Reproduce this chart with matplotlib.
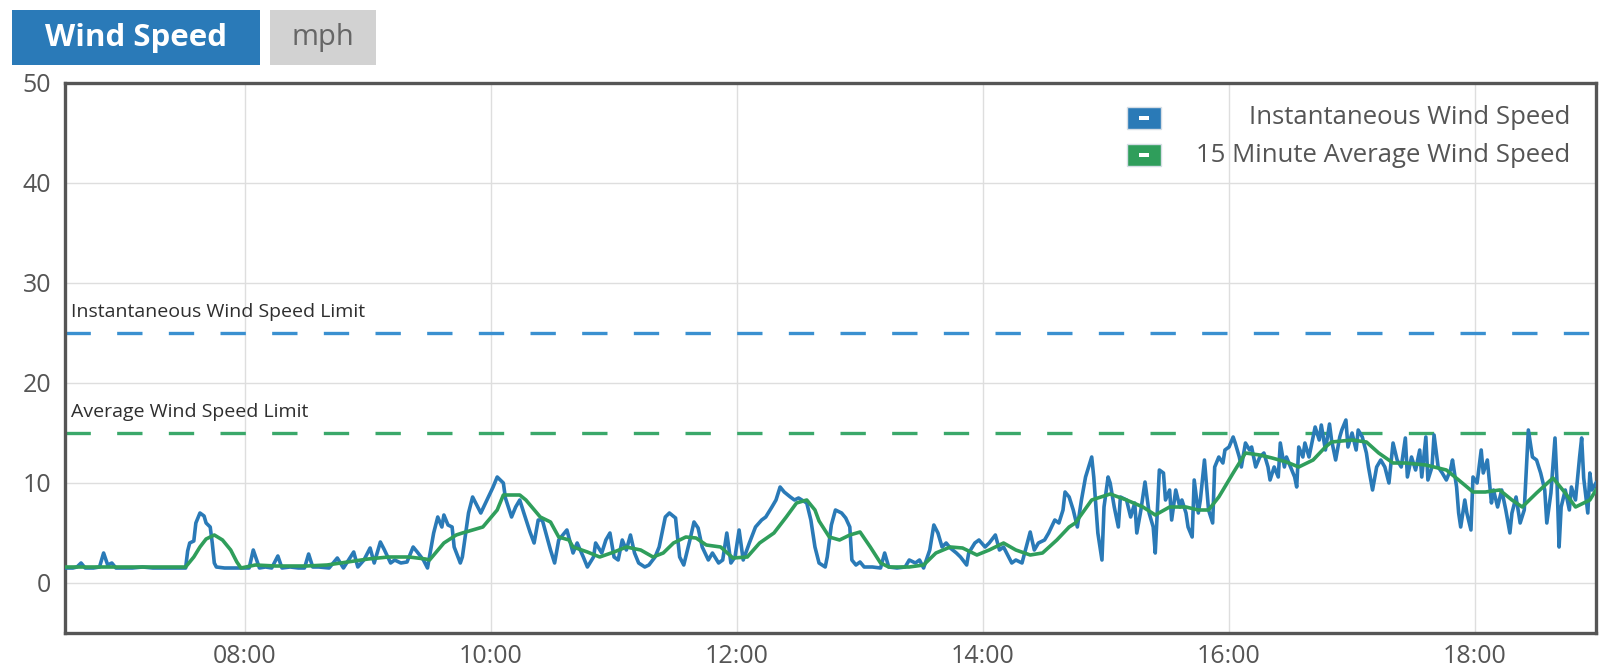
import matplotlib
matplotlib.use("Agg")
import matplotlib.pyplot as plt
import matplotlib.dates as mdates
from matplotlib.patches import Rectangle
import pandas as pd

plt.rcParams['font.family'] = ['Open Sans', 'DejaVu Sans']

DAY = "2019-06-14"

# Instantaneous wind speed readings (local time, mph)
inst_times = [
    "06:32", "06:36", "06:38", "06:40", "06:42", "06:46", "06:49", "06:51", "06:53", "06:55",
    "06:57", "07:05", "07:10", "07:15", "07:20", "07:25", "07:31", "07:32", "07:33", "07:35",
    "07:36", "07:38", "07:40", "07:41", "07:43", "07:44", "07:45", "07:46", "07:50", "07:55",
    "07:58", "08:02", "08:04", "08:07", "08:10", "08:13", "08:16", "08:18", "08:22", "08:26",
    "08:29", "08:31", "08:33", "08:36", "08:41", "08:45", "08:48", "08:53", "08:55", "08:58",
    "09:01", "09:03", "09:06", "09:08", "09:11", "09:13", "09:16", "09:19", "09:22", "09:24",
    "09:27", "09:29", "09:32", "09:34", "09:36", "09:37", "09:39", "09:41", "09:42", "09:45",
    "09:46", "09:49", "09:51", "09:53", "09:55", "09:58", "10:01", "10:03", "10:06", "10:07",
    "10:10", "10:12", "10:14", "10:16", "10:19", "10:21", "10:23", "10:25", "10:29", "10:31",
    "10:33", "10:37", "10:40", "10:42", "10:45", "10:47", "10:50", "10:51", "10:54", "10:56",
    "10:58", "11:00", "11:02", "11:04", "11:06", "11:08", "11:10", "11:12", "11:15", "11:17",
    "11:20", "11:22", "11:25", "11:27", "11:30", "11:32", "11:34", "11:37", "11:39", "11:41",
    "11:43", "11:46", "11:48", "11:51", "11:53", "11:55", "11:57", "11:59", "12:01", "12:03",
    "12:06", "12:09", "12:12", "12:14", "12:17", "12:19", "12:21", "12:23", "12:26", "12:28",
    "12:30", "12:34", "12:36", "12:38", "12:40", "12:43", "12:44", "12:46", "12:48", "12:51",
    "12:53", "12:55", "12:56", "12:58", "13:00", "13:02", "13:06", "13:10", "13:12", "13:14",
    "13:18", "13:22", "13:24", "13:27", "13:29", "13:31", "13:34", "13:36", "13:38", "13:40",
    "13:42", "13:44", "13:47", "13:49", "13:52", "13:53", "13:56", "13:58", "14:01", "14:03",
    "14:06", "14:08", "14:10", "14:14", "14:16", "14:19", "14:23", "14:25", "14:27", "14:30",
    "14:32", "14:35", "14:37", "14:39", "14:40", "14:42", "14:44", "14:46", "14:48", "14:50",
    "14:53", "14:54", "14:56", "14:58", "14:59", "15:01", "15:02", "15:04", "15:06", "15:07",
    "15:10", "15:12", "15:14", "15:15", "15:17", "15:19", "15:21", "15:23", "15:24", "15:26",
    "15:28", "15:29", "15:31", "15:32", "15:34", "15:36", "15:37", "15:39", "15:40", "15:42",
    "15:43", "15:45", "15:46", "15:48", "15:50", "15:52", "15:53", "15:55", "15:57", "15:58",
    "16:00", "16:02", "16:03", "16:05", "16:06", "16:08", "16:10", "16:11", "16:13", "16:15",
    "16:17", "16:19", "16:20", "16:22", "16:24", "16:25", "16:27", "16:28", "16:30", "16:32",
    "16:33", "16:34", "16:36", "16:37", "16:39", "16:41", "16:42", "16:44", "16:45", "16:47",
    "16:49", "16:50", "16:52", "16:54", "16:55", "16:57", "16:58", "17:00", "17:02", "17:03",
    "17:05", "17:07", "17:08", "17:10", "17:12", "17:14", "17:16", "17:18", "17:20", "17:22",
    "17:24", "17:26", "17:27", "17:29", "17:31", "17:33", "17:34", "17:36", "17:37", "17:39",
    "17:40", "17:42", "17:44", "17:46", "17:48", "17:49", "17:51", "17:52", "17:53", "17:55",
    "17:56", "17:58", "17:59", "18:01", "18:03", "18:04", "18:06", "18:08", "18:09", "18:11",
    "18:13", "18:15", "18:17", "18:18", "18:20", "18:22", "18:24", "18:26", "18:28", "18:30",
    "18:32", "18:34", "18:35", "18:37", "18:39", "18:40", "18:41", "18:42", "18:44", "18:46",
    "18:47", "18:49", "18:51", "18:52", "18:53", "18:55", "18:56", "18:57", "18:59",
]
inst_mph = [
    1.5, 1.5, 1.6, 2.0, 1.5, 1.5, 1.6, 3.0, 1.8, 2.0,
    1.5, 1.5, 1.6, 1.5, 1.5, 1.5, 1.5, 3.2, 4.0, 4.2,
    6.0, 7.0, 6.7, 6.0, 5.6, 4.0, 2.0, 1.6, 1.5, 1.5,
    1.5, 1.5, 3.3, 1.5, 1.6, 1.5, 2.7, 1.5, 1.6, 1.5,
    1.5, 2.9, 1.6, 1.6, 1.5, 2.5, 1.5, 3.1, 1.6, 2.3,
    3.5, 2.0, 4.1, 3.3, 2.0, 2.3, 2.0, 2.1, 3.6, 3.1,
    2.3, 1.5, 5.0, 6.6, 5.6, 6.8, 5.8, 5.6, 3.6, 2.0,
    2.6, 7.0, 8.6, 7.8, 7.0, 8.3, 9.6, 10.6, 10.0, 8.5,
    6.6, 7.6, 8.3, 7.0, 5.1, 4.0, 6.3, 6.3, 3.3, 2.0,
    4.3, 5.3, 3.0, 4.0, 2.6, 1.6, 2.6, 4.0, 3.0, 4.3,
    5.0, 2.6, 2.3, 4.3, 3.3, 4.8, 3.0, 2.0, 1.6, 1.8,
    2.6, 3.6, 6.6, 7.0, 6.5, 2.6, 1.8, 4.3, 6.1, 5.5,
    3.6, 2.3, 3.0, 2.0, 2.3, 5.0, 2.0, 2.6, 5.3, 2.3,
    4.0, 5.6, 6.3, 6.6, 7.6, 8.3, 9.6, 9.1, 8.6, 8.3,
    8.5, 8.0, 6.3, 3.6, 2.0, 1.6, 2.6, 5.8, 7.3, 7.0,
    6.5, 5.6, 2.3, 1.8, 2.1, 1.6, 1.6, 1.5, 3.0, 1.6,
    1.5, 1.6, 2.3, 2.0, 2.3, 1.5, 3.3, 5.8, 5.0, 3.6,
    4.0, 3.5, 3.0, 2.6, 1.8, 3.0, 4.0, 4.3, 3.6, 4.0,
    4.8, 3.3, 3.6, 2.0, 2.3, 2.0, 5.1, 3.3, 4.0, 4.3,
    5.0, 6.3, 6.0, 7.3, 9.1, 8.6, 7.3, 5.6, 8.3, 10.6,
    12.6, 10.6, 5.0, 2.3, 7.6, 10.6, 10.0, 7.6, 5.6, 8.6,
    8.3, 6.6, 8.0, 5.0, 7.3, 10.1, 7.0, 5.6, 3.0, 11.3,
    11.0, 8.3, 9.3, 6.3, 9.3, 7.6, 8.3, 7.0, 5.6, 4.6,
    10.3, 7.0, 8.3, 12.3, 7.3, 6.0, 11.6, 12.6, 12.0, 13.3,
    13.6, 14.6, 14.0, 12.6, 11.6, 14.0, 13.3, 13.6, 11.6, 12.6,
    13.0, 11.6, 10.3, 11.6, 10.6, 14.0, 11.6, 12.6, 11.6, 10.6,
    9.6, 13.6, 12.6, 14.0, 12.6, 14.6, 15.6, 14.3, 15.8, 13.3,
    15.9, 14.3, 12.3, 14.6, 15.3, 16.3, 13.6, 15.0, 13.3, 15.3,
    14.6, 13.0, 11.6, 9.3, 11.6, 12.3, 11.6, 10.0, 14.0, 12.3,
    11.6, 14.5, 10.6, 12.6, 11.3, 13.3, 10.6, 14.6, 10.3, 11.6,
    14.8, 11.6, 11.0, 10.3, 11.3, 12.3, 9.6, 7.0, 5.6, 8.3,
    7.0, 5.3, 10.6, 10.0, 13.3, 11.0, 12.3, 8.0, 9.3, 7.6,
    9.3, 7.3, 5.0, 7.0, 8.6, 6.0, 7.3, 15.3, 12.6, 12.3,
    11.0, 9.3, 6.0, 9.0, 14.5, 10.0, 3.6, 7.6, 9.3, 7.3,
    9.6, 8.3, 12.6, 14.5, 10.5, 7.0, 11.0, 9.3, 10.0,
]

# 15 minute rolling average (local time, mph)
avg_times = [
    "06:32", "07:31", "07:35", "07:38", "07:41", "07:45", "07:49", "07:53", "07:56", "07:58",
    "08:05", "08:15", "08:30", "08:40", "08:50", "09:00", "09:10", "09:20", "09:28", "09:30",
    "09:37", "09:43", "09:46", "09:56", "10:03", "10:06", "10:14", "10:17", "10:24", "10:29",
    "10:33", "10:38", "10:40", "10:47", "10:53", "11:00", "11:06", "11:13", "11:19", "11:24",
    "11:29", "11:35", "11:40", "11:45", "11:52", "11:58", "12:05", "12:11", "12:18", "12:24",
    "12:29", "12:34", "12:38", "12:40", "12:45", "12:50", "12:55", "13:00", "13:05", "13:10",
    "13:14", "13:24", "13:31", "13:37", "13:44", "13:50", "13:57", "14:03", "14:10", "14:16",
    "14:23", "14:29", "14:36", "14:42", "14:45", "14:53", "15:02", "15:10", "15:18", "15:24",
    "15:31", "15:39", "15:45", "15:50", "15:55", "16:02", "16:08", "16:15", "16:21", "16:28",
    "16:34", "16:41", "16:47", "16:50", "17:00", "17:07", "17:13", "17:20", "17:26", "17:36",
    "17:46", "17:52", "17:59", "18:05", "18:12", "18:18", "18:23", "18:30", "18:38", "18:44",
    "18:49", "18:56", "18:59",
]
avg_mph = [
    1.6, 1.6, 2.6, 3.6, 4.4, 4.8, 4.3, 3.3, 2.1, 1.5,
    1.8, 1.7, 1.7, 1.8, 2.1, 2.4, 2.6, 2.6, 2.4, 2.3,
    4.0, 4.8, 5.0, 5.6, 7.3, 8.8, 8.8, 8.3, 6.6, 6.1,
    4.6, 4.3, 3.6, 3.1, 2.6, 3.1, 3.6, 3.3, 2.6, 3.0,
    4.0, 4.6, 4.5, 3.8, 3.6, 2.5, 2.6, 4.0, 5.0, 6.6,
    8.0, 8.3, 7.3, 6.2, 4.6, 4.3, 4.8, 5.1, 3.6, 2.0,
    1.6, 1.6, 1.8, 3.0, 3.6, 3.5, 2.8, 3.3, 4.0, 3.3,
    2.8, 3.0, 4.3, 5.6, 6.0, 8.3, 8.9, 8.3, 7.6, 6.8,
    7.6, 7.6, 7.3, 7.3, 8.6, 11.0, 13.0, 12.8, 12.5, 12.1,
    11.6, 12.3, 13.6, 14.1, 14.3, 14.1, 13.0, 12.0, 12.0, 11.8,
    11.3, 10.3, 9.1, 9.1, 9.3, 8.3, 7.6, 9.0, 10.5, 9.0,
    7.6, 8.3, 9.3,
]

inst_limit = 25
avg_limit = 15
y_ticks = [0, 10, 20, 30, 40, 50]
x_tick_hours = [8, 10, 12, 14, 16, 18]
x_range = ("06:32:10", "18:59:00")

BLUE = "#2a7ab7"
GREEN = "#2f9e5b"
BLUE_LIMIT = "#3a90d0"
GREEN_LIMIT = "#3aa86a"
SPINE = "#555555"
TICK_TEXT = "#555555"


def stamp(t):
    return pd.Timestamp(f"{DAY} {t}")


inst_x = [stamp(t) for t in inst_times]
avg_x = [stamp(t) for t in avg_times]

W, H = 1610, 671
fig = plt.figure(figsize=(W / 100, H / 100), dpi=100)
fig.patch.set_facecolor("white")


def fig_rect(x0, y0, x1, y1, **kw):
    """Rectangle given in figure pixels, measured from the top-left corner."""
    r = Rectangle((x0 / W, 1 - y1 / H), (x1 - x0) / W, (y1 - y0) / H,
                  transform=fig.transFigure, **kw)
    fig.patches.append(r)
    return r


def fig_text(x, y, s, **kw):
    return fig.text(x / W, 1 - y / H, s, **kw)


# header tabs
fig_rect(12, 10, 260, 65, facecolor="#2a7ab8", edgecolor="none")
fig_text(136, 38, "Wind Speed", ha="center", va="center", color="white",
         fontsize=22.5, fontweight="bold")
fig_rect(270, 10, 376, 65, facecolor="#d2d2d2", edgecolor="none")
fig_text(323, 38, "mph", ha="center", va="center", color="#666666", fontsize=21)

ax = fig.add_axes([65 / W, 38 / H, 1531 / W, 550 / H])

ax.plot(inst_x, inst_mph, color=BLUE, lw=2.6, solid_joinstyle="round", zorder=3)
ax.plot(avg_x, avg_mph, color=GREEN, lw=2.6, solid_joinstyle="round", zorder=4)

ax.axhline(inst_limit, color=BLUE_LIMIT, lw=2.4, ls=(0, (7.6, 7.9)), zorder=2)
ax.axhline(avg_limit, color=GREEN_LIMIT, lw=2.4, ls=(0, (7.6, 7.9)), zorder=2)

lim_tf = matplotlib.transforms.blended_transform_factory(ax.transAxes, ax.transData)
ax.annotate("Instantaneous Wind Speed Limit", xy=(0, inst_limit), xycoords=lim_tf,
            xytext=(6, 21), textcoords="offset pixels", ha="left", va="center",
            fontsize=14, color="#2e2e2e")
ax.annotate("Average Wind Speed Limit", xy=(0, avg_limit), xycoords=lim_tf,
            xytext=(6, 21), textcoords="offset pixels", ha="left", va="center",
            fontsize=14, color="#2e2e2e")

ax.set_ylim(-5, 50)
ax.set_yticks(y_ticks)
ax.set_xlim(stamp(x_range[0]), stamp(x_range[1]))
ax.xaxis.set_major_locator(mdates.HourLocator(byhour=x_tick_hours))
ax.xaxis.set_major_formatter(mdates.DateFormatter("%H:%M"))

ax.grid(True, color="#dedede", lw=1.0, zorder=0)
ax.set_axisbelow(True)
ax.tick_params(axis="both", length=0, labelsize=18, labelcolor=TICK_TEXT)
ax.tick_params(axis="x", pad=8)
ax.tick_params(axis="y", pad=10)
for sp in ax.spines.values():
    sp.set_color(SPINE)
    sp.set_linewidth(2.4)

# legend boxes with a white bar, right-aligned captions
legend_rows = [("Instantaneous Wind Speed", BLUE, 118), ("15 Minute Average Wind Speed", GREEN, 155)]
for label, color, yc in legend_rows:
    fig_rect(1127, yc - 11, 1161, yc + 11, facecolor=color, edgecolor="#d5dde5", lw=1.0)
    fig_rect(1139, yc - 1.5, 1149, yc + 1.5, facecolor="white", edgecolor="none")
    fig_text(1570, yc, label, ha="right", va="center", color="#555555", fontsize=18.5)

fig.savefig("out.png", dpi=100)
